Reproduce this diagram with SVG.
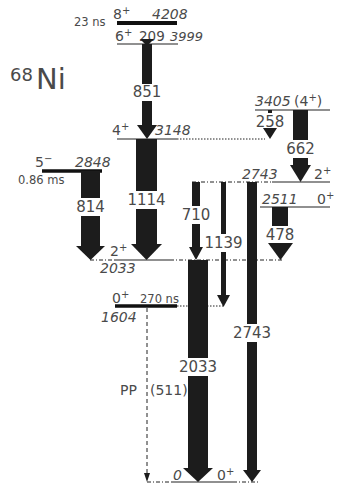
<svg xmlns="http://www.w3.org/2000/svg" width="345" height="485" viewBox="0 0 345 485">
<style>
text{font-family:"DejaVu Sans","Liberation Sans",sans-serif;fill:#4a4a4a}
.lbl{font-size:15px;text-anchor:middle}
.en{font-size:14px;font-style:italic}
.sp{font-size:14px}
.sup{font-size:10px}
.sm{font-size:11.5px}
.lv{stroke:#222;stroke-width:1.2;fill:none}
.bar{stroke:#111;stroke-width:4;fill:none}
.dd{stroke:#222;stroke-width:1;stroke-dasharray:4 2 1 2;fill:none}
.dot{stroke:#222;stroke-width:1;stroke-dasharray:1.5 1.5;fill:none}
.dash{stroke:#222;stroke-width:1;stroke-dasharray:4 3;fill:none}
.arr{fill:#1c1c1c}
.gap{fill:#fff}
</style>
<rect width="345" height="485" fill="#fff"/>
<g id="title"><text x="10" y="81" style="font-size:18px">68</text><text x="36" y="89" style="font-size:29px">Ni</text></g>
<g id="L4208">
<line class="bar" x1="117" y1="23" x2="177" y2="23"/>
<text class="sm" x="74" y="26">23 ns</text>
<text class="sp" x="113" y="19">8<tspan class="sup" dy="-5">+</tspan></text>
<text class="en" x="152" y="19">4208</text>
</g>
<g id="L3999">
<line class="lv" x1="117" y1="44" x2="178" y2="44"/>
<text class="sp" x="115" y="41">6<tspan class="sup" dy="-5">+</tspan></text>
<text class="sp" x="139" y="41" style="font-size:13.5px">209</text>
<text class="en" x="170" y="41" style="font-size:13px">3999</text>
</g>
<g id="L3405">
<line class="lv" x1="255" y1="110" x2="330" y2="110"/>
<text class="en" x="255" y="106">3405</text>
<text class="sp" x="294" y="106">(4<tspan class="sup" dy="-5">+</tspan><tspan dy="5">)</tspan></text>
</g>
<g id="L3148">
<line class="lv" x1="117" y1="139" x2="177" y2="139"/>
<line class="dot" x1="177" y1="139" x2="265" y2="139"/>
<text class="sp" x="112" y="135">4<tspan class="sup" dy="-5">+</tspan></text>
<text class="en" x="155" y="135">3148</text>
</g>
<g id="L2848">
<line class="bar" x1="42" y1="171" x2="102" y2="171" style="stroke-width:3.5"/>
<text class="sp" x="35" y="167">5<tspan class="sup" dy="-5">−</tspan></text>
<text class="en" x="75" y="167">2848</text>
<text class="sm" x="18" y="184">0.86 ms</text>
</g>
<g id="L2743">
<line class="dd" x1="192" y1="182" x2="272" y2="182"/>
<line class="lv" x1="272" y1="182" x2="330" y2="182"/>
<text class="en" x="242" y="179">2743</text>
<text class="sp" x="314" y="179">2<tspan class="sup" dy="-5">+</tspan></text>
</g>
<g id="L2511">
<line class="lv" x1="260" y1="207" x2="330" y2="207"/>
<text class="en" x="262" y="204">2511</text>
<text class="sp" x="317" y="204">0<tspan class="sup" dy="-5">+</tspan></text>
</g>
<g id="L2033">
<line class="dd" x1="90" y1="260" x2="115" y2="260"/>
<line class="lv" x1="115" y1="260" x2="170" y2="260"/>
<line class="dd" x1="170" y1="260" x2="283" y2="260"/>
<text class="sp" x="110" y="256">2<tspan class="sup" dy="-5">+</tspan></text>
<text class="en" x="100" y="273">2033</text>
</g>
<g id="L1604">
<line class="bar" x1="115" y1="306" x2="177" y2="306" style="stroke-width:3.5"/>
<line class="dot" x1="177" y1="306" x2="223" y2="306"/>
<text class="sp" x="112" y="303">0<tspan class="sup" dy="-5">+</tspan></text>
<text class="sm" x="140" y="303">270 ns</text>
<text class="en" x="101" y="322">1604</text>
</g>
<g id="L0">
<line class="dd" x1="147" y1="482" x2="172" y2="482"/>
<line class="lv" x1="172" y1="482" x2="233" y2="482"/>
<line class="dd" x1="233" y1="482" x2="260" y2="482"/>
<text class="en" x="173" y="480">0</text>
<text class="sp" x="217" y="480">0<tspan class="sup" dy="-5">+</tspan></text>
</g>
<g id="connectors">
<polygon class="arr" points="140,39 154,39 147,46"/>
<rect class="arr" x="142" y="44" width="10" height="82"/>
<polygon class="arr" points="137,125 157,125 147,139"/>
<rect class="arr" x="136" y="139" width="21" height="106"/>
<polygon class="arr" points="131,244 162,244 146.5,260"/>
<rect class="arr" x="81" y="171" width="19" height="76"/>
<polygon class="arr" points="76,246 105,246 90.5,260"/>
<rect class="arr" x="268" y="110" width="4" height="3"/>
<polygon class="arr" points="263,128 277,128 270,139"/>
<rect class="arr" x="293" y="110" width="15" height="56"/>
<polygon class="arr" points="290,165 311,165 300.5,182"/>
<rect class="arr" x="272" y="207" width="16" height="37"/>
<polygon class="arr" points="268,243 293,243 280.5,260"/>
<rect class="arr" x="192" y="182" width="8" height="66"/>
<polygon class="arr" points="189,247 203,247 196,260"/>
<rect class="arr" x="221" y="182" width="5" height="114"/>
<polygon class="arr" points="217,295 230,295 223.5,307"/>
<rect class="arr" x="247" y="182" width="10" height="289"/>
<polygon class="arr" points="243,470 261,470 252,482"/>
<rect class="arr" x="188" y="260" width="20" height="210"/>
<polygon class="arr" points="183,468 213,468 198,482"/>
<line class="dash" x1="147" y1="308" x2="147" y2="474"/>
<polygon class="arr" points="144,473 150,473 147,482"/>
<rect class="gap" x="140" y="84" width="14" height="17"/>
<rect class="gap" x="134" y="191" width="25" height="18"/>
<rect class="gap" x="79" y="198" width="23" height="18"/>
<rect class="gap" x="291" y="140" width="19" height="18"/>
<rect class="gap" x="270" y="226" width="20" height="17"/>
<rect class="gap" x="190" y="206" width="12" height="18"/>
<rect class="gap" x="219" y="234" width="9" height="18"/>
<rect class="gap" x="245" y="324" width="14" height="18"/>
<rect class="gap" x="186" y="358" width="24" height="18"/>
<text class="lbl" x="147" y="97">851</text>
<text class="lbl" x="146.5" y="205">1114</text>
<text class="lbl" x="90.5" y="212">814</text>
<text class="lbl" x="300.5" y="154">662</text>
<text class="lbl" x="280" y="240">478</text>
<text class="lbl" x="196" y="220">710</text>
<text class="lbl" x="223.5" y="248">1139</text>
<text class="lbl" x="252" y="338">2743</text>
<text class="lbl" x="198" y="372">2033</text>
<text class="lbl" x="270" y="127">258</text>
<text class="sp" x="120" y="395">PP</text>
<text class="sp" x="150" y="395">(511)</text>
</g>
</svg>
